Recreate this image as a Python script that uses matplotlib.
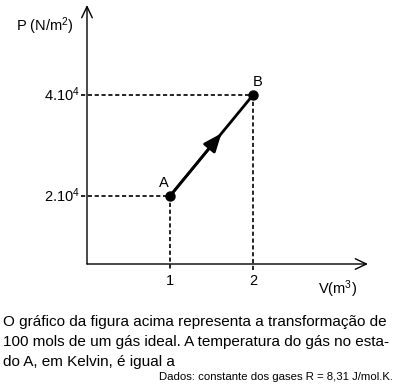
import numpy as np
import matplotlib
matplotlib.use('Agg')
import matplotlib.pyplot as plt

plt.rcParams['font.family'] = ['Liberation Sans', 'DejaVu Sans']
plt.rcParams['mathtext.default'] = 'regular'

# states of the gas
states = ['A', 'B']
volume = [1, 2]          # m^3
pressure = [2, 4]        # x 10^4 N/m^2
xticks = [1, 2]
xtick_labels = ['1', '2']
yticks = [2, 4]
ytick_labels = ['2.10$^4$', '4.10$^4$']

W, H = 397, 387
fig = plt.figure(figsize=(W / 100, H / 100), dpi=100)
ax = fig.add_axes([0, 0, 1, 1])
ax.axis('off')

# pixel -> data mapping chosen to match the figure layout
x0_px, x_scale = 87, 83.0
y0_px, y_scale = 297, 50.5
ax.set_xlim(-x0_px / x_scale, (W - x0_px) / x_scale)
ax.set_ylim((y0_px - H) / y_scale, y0_px / y_scale)

x_axis_p = (y0_px - 264) / y_scale
y_top = (y0_px - 5) / y_scale
x_right = (368 - x0_px) / x_scale
dash_left = -0.07
dash_bottom = (y0_px - 270) / y_scale

# axes with open arrow heads
ax.annotate('', xy=(0, y_top), xytext=(0, x_axis_p),
            arrowprops=dict(arrowstyle='->,head_length=0.8,head_width=0.38', lw=1.0, color='black',
                            shrinkA=0, shrinkB=0))
ax.annotate('', xy=(x_right, x_axis_p), xytext=(0, x_axis_p),
            arrowprops=dict(arrowstyle='->,head_length=0.8,head_width=0.38', lw=1.0, color='black',
                            shrinkA=0, shrinkB=0))

# dashed guide lines
for v, p in zip(volume, pressure):
    ax.plot([dash_left, v], [p, p], ls=(0, (2.5, 1.6)), color='black', lw=1.2)
    ax.plot([v, v], [p, dash_bottom], ls=(0, (2.5, 1.6)), color='black', lw=1.2)

# transformation A -> B
ax.plot(volume, pressure, color='black', lw=2.0, solid_capstyle='butt')
frac = 0.62
mid = (volume[0] + frac * (volume[1] - volume[0]), pressure[0] + frac * (pressure[1] - pressure[0]))
ax.annotate('', xy=mid, xytext=(volume[0], pressure[0]),
            arrowprops=dict(arrowstyle='-|>,head_length=1.1,head_width=0.45', lw=2.0, color='black',
                            shrinkA=0, shrinkB=0))
ax.plot(volume, pressure, 'o', color='black', ms=6.5)

ax.text(volume[0] - 0.07, pressure[0] + 0.12, states[0], fontsize=10.5, ha='center', va='bottom')
ax.text(volume[1] + 0.05, pressure[1] + 0.12, states[1], fontsize=10.5, ha='center', va='bottom')

for t, lab in zip(xticks, xtick_labels):
    ax.text(t, x_axis_p - 0.2, lab, fontsize=10.5, ha='center', va='top')
for t, lab in zip(yticks, ytick_labels):
    ax.text(-0.09, t, lab, fontsize=10.5, ha='right', va='center')

ax.text(-0.86, y_top - 0.42, 'P (N/m$^2$)', fontsize=10.5, ha='left', va='center')
ax.text(x_right - 0.37, x_axis_p - 0.5, 'V(m$^3$)', fontsize=10.5, ha='center', va='center')

# question text
lines = ['O gráfico da figura acima representa a transformação de',
         '100 mols de um gás ideal. A temperatura do gás no esta-',
         'do A, em Kelvin, é igual a']
for i, line in enumerate(lines):
    fig.text(3 / W, 1 - (322 + 20 * i) / H, line, fontsize=11, ha='left', va='center')
fig.text(393 / W, 1 - 377 / H, 'Dados: constante dos gases R = 8,31 J/mol.K.', fontsize=8.2,
         ha='right', va='center')

fig.savefig('out.png', dpi=100)
